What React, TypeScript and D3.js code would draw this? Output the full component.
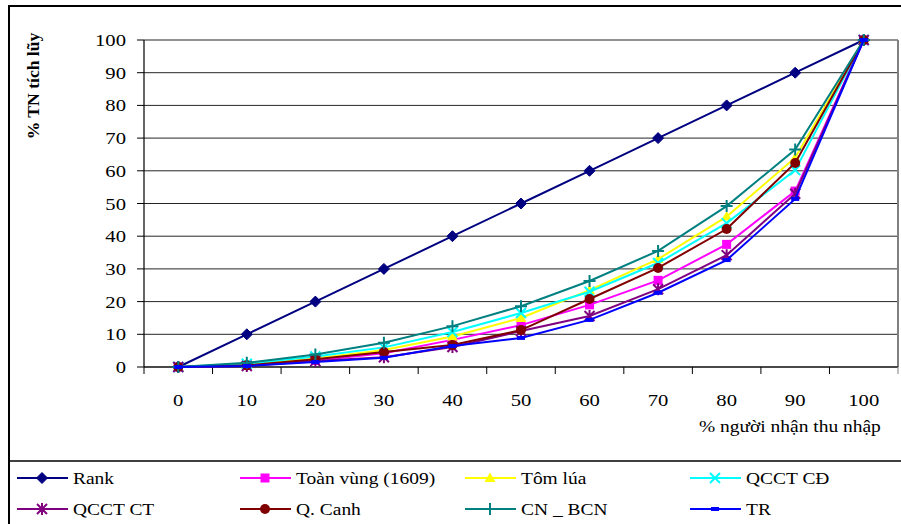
import React from "react";
import * as d3 from "d3";

const categories = [0, 10, 20, 30, 40, 50, 60, 70, 80, 90, 100];
const yTicks = [0, 10, 20, 30, 40, 50, 60, 70, 80, 90, 100];

const rank = [0, 10, 20, 30, 40, 50, 60, 70, 80, 90, 100];
const toanVung = [0, 0.5, 2, 4.2, 8.3, 12.8, 19, 26.5, 37.5, 53.8, 100];
const tomLua = [0, 0.7, 2.6, 5.2, 9.3, 15, 23.5, 33, 46, 64, 100];
const qcctCD = [0, 1, 3.2, 6, 10.7, 16.5, 23, 31.8, 44, 60.2, 100];
const qcctCT = [0, 0.3, 1.8, 3.0, 6.1, 11, 15.6, 23.8, 34.2, 53, 100];
const qCanh = [0, 0.5, 2.4, 4.6, 6.7, 11.3, 20.8, 30.3, 42.2, 62.4, 100];
const cnBcn = [0, 1.3, 3.8, 7.4, 12.5, 18.6, 26.3, 35.5, 49.2, 66.5, 100];
const tr = [0, 0.3, 1.5, 2.8, 6.4, 8.9, 14.4, 22.7, 32.7, 51.4, 100];

const seriesNames = ["Rank", "Toàn vùng (1609)", "Tôm lúa", "QCCT CĐ", "QCCT CT", "Q. Canh", "CN _ BCN", "TR"];
const seriesValues = [rank, toanVung, tomLua, qcctCD, qcctCT, qCanh, cnBcn, tr];
const seriesColors = ["#000080", "#FF00FF", "#FFFF00", "#00FFFF", "#800080", "#800000", "#008080", "#0000FF"];
const seriesMarkers = ["diamond", "square", "triangle", "x", "star", "circle", "plus", "dash"];

const SX = 1.18;
const FONT = `"Times New Roman"`;

function T({ x, y, anchor = "start", size = 16.5, children }: any) {
  return (
    <text
      transform={`translate(${x},${y}) scale(${SX},1)`}
      textAnchor={anchor}
      style={{ fontFamily: FONT, fontSize: size }}
      fill="#000"
    >
      {children}
    </text>
  );
}

function Marker({ type, x, y, color }: any) {
  const t = `translate(${x},${y})`;
  switch (type) {
    case "diamond":
      return <path transform={t} d="M0,-5.5L5.5,0L0,5.5L-5.5,0Z" fill={color} stroke={color} />;
    case "square":
      return <rect x={x - 4.5} y={y - 4.5} width={9} height={9} fill={color} />;
    case "triangle":
      return <path transform={t} d="M0,-5.5L5.5,4L-5.5,4Z" fill={color} />;
    case "circle":
      return <circle cx={x} cy={y} r={5} fill={color} />;
    case "x":
      return <path transform={t} d="M-5,-5L5,5M-5,5L5,-5" stroke={color} strokeWidth={2} fill="none" />;
    case "plus":
      return <path transform={t} d="M-6,0L6,0M0,-6L0,6" stroke={color} strokeWidth={2} fill="none" />;
    case "star":
      return <path transform={t} d="M-5,-5L5,5M-5,5L5,-5M0,-6L0,6" stroke={color} strokeWidth={2} fill="none" />;
    case "dash":
      return <rect x={x - 4} y={y - 2} width={8} height={4} fill={color} />;
    default:
      return null;
  }
}

export default function App() {
  const W = 901, H = 524;
  const left = 144, right = 898, top = 40, bottom = 367;
  const x = d3.scaleBand<number>().domain(categories).range([left, right]);
  const bw = x.bandwidth();
  const cx = (c: number) => x(c)! + bw / 2;
  const y = d3.scaleLinear().domain([0, 100]).range([bottom, top]);
  const line = d3
    .line<number>()
    .x((_, i) => cx(categories[i]))
    .y((v) => y(v));

  const legendCols = [17, 240, 465, 690];
  const legendRows = [478, 509];

  return (
    <svg width={W} height={H} style={{ position: "fixed", left: 0, top: 0, background: "#fff", fontFamily: FONT }}>
      <rect x={0} y={0} width={W} height={H} fill="#fff" />
      <rect x={9} y={6} width={W + 20} height={H + 20} fill="none" stroke="#000" strokeWidth={2} />
      <line x1={9} x2={W} y1={461} y2={461} stroke="#000" strokeWidth={1.5} />

      {yTicks.map((t) => (
        <line key={"g" + t} x1={left} x2={right} y1={y(t)} y2={y(t)} stroke="#000" strokeWidth={1} opacity={0.85} />
      ))}
      <line x1={right} x2={right} y1={top} y2={bottom} stroke="#808080" strokeWidth={2} />
      <line x1={left} x2={left} y1={top} y2={bottom} stroke="#000" strokeWidth={1.2} />
      {yTicks.map((t) => (
        <line key={"yt" + t} x1={left - 7} x2={left} y1={y(t)} y2={y(t)} stroke="#000" strokeWidth={1} />
      ))}
      <line x1={left} x2={right} y1={bottom} y2={bottom} stroke="#000" strokeWidth={1.2} />
      {categories.map((c) => (
        <line key={"xt" + c} x1={x(c)!} x2={x(c)!} y1={bottom} y2={bottom + 7} stroke="#000" strokeWidth={1} />
      ))}
      <line x1={right} x2={right} y1={bottom} y2={bottom + 7} stroke="#808080" strokeWidth={1} />

      {seriesValues.map((vals, si) => (
        <g key={"s" + si}>
          <path d={line(vals)!} fill="none" stroke={seriesColors[si]} strokeWidth={2} />
          {vals.map((v, i) => (
            <Marker key={i} type={seriesMarkers[si]} x={cx(categories[i])} y={y(v)} color={seriesColors[si]} />
          ))}
        </g>
      ))}

      {seriesNames.map((name, i) => {
        const lx = legendCols[i % 4];
        const ly = legendRows[Math.floor(i / 4)];
        return (
          <g key={"ls" + i}>
            <line x1={lx} x2={lx + 51} y1={ly} y2={ly} stroke={seriesColors[i]} strokeWidth={2} />
            <Marker type={seriesMarkers[i]} x={lx + 25} y={ly} color={seriesColors[i]} />
            <T x={lx + 56} y={ly + 6} size={16.5}>
              {name}
            </T>
          </g>
        );
      })}

      {yTicks.map((t) => (
        <T key={"yl" + t} x={126} y={y(t) + 6} anchor="end" size={17.5}>
          {t}
        </T>
      ))}
      {categories.map((c) => (
        <T key={"xl" + c} x={cx(c)} y={406} anchor="middle" size={17.5}>
          {c}
        </T>
      ))}
      <T x={699} y={432} size={16.5}>
        % người nhận thu nhập
      </T>
      <text
        transform={`translate(39,86) rotate(-90) scale(1.1,1)`}
        textAnchor="middle"
        style={{ fontFamily: FONT, fontSize: 16, fontWeight: "bold" }}
        fill="#000"
      >
        % TN tích lũy
      </text>
    </svg>
  );
}
